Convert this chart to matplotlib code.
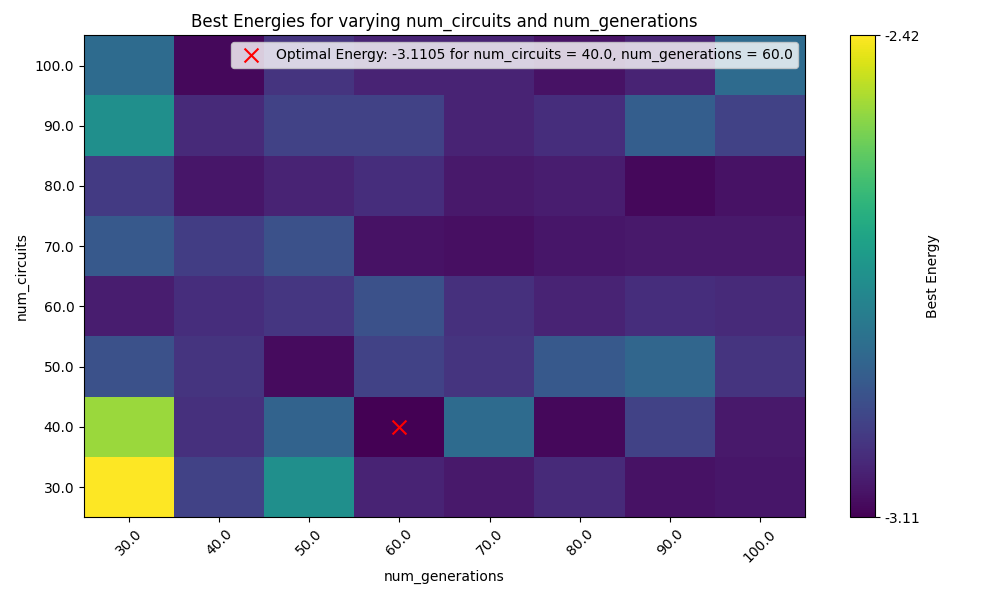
import numpy as np
import matplotlib
matplotlib.use('Agg')
import matplotlib.pyplot as plt

num_generations = [30.0, 40.0, 50.0, 60.0, 70.0, 80.0, 90.0, 100.0]
num_circuits = [30.0, 40.0, 50.0, 60.0, 70.0, 80.0, 90.0, 100.0]

# rows: num_circuits (30 -> 100), cols: num_generations (30 -> 100)
best_energy = np.array([
    [-2.420, -2.973, -2.766, -3.041, -3.062, -3.028, -3.076, -3.069],
    [-2.524, -3.014, -2.890, -3.1105, -2.869, -3.097, -2.973, -3.062],
    [-2.938, -3.007, -3.090, -2.973, -3.007, -2.917, -2.883, -3.007],
    [-3.055, -3.021, -3.000, -2.938, -3.014, -3.041, -3.021, -3.028],
    [-2.917, -2.986, -2.938, -3.076, -3.083, -3.069, -3.062, -3.062],
    [-2.993, -3.069, -3.041, -3.021, -3.062, -3.055, -3.097, -3.076],
    [-2.766, -3.028, -2.973, -2.973, -3.041, -3.021, -2.904, -2.973],
    [-2.869, -3.097, -3.007, -3.041, -3.041, -3.076, -3.041, -2.869],
])

opt_gen, opt_circ, opt_energy = 60.0, 40.0, -3.1105

fig = plt.figure(figsize=(10, 6), dpi=100)
ax = fig.add_axes([0.084, 0.138, 0.721, 0.803])
cax = fig.add_axes([0.85, 0.138, 0.025, 0.803])

vmin, vmax = best_energy.min(), best_energy.max()
im = ax.imshow(best_energy, origin='lower', aspect='auto', cmap='viridis',
               extent=[25, 105, 25, 105], vmin=vmin, vmax=vmax)
ax.scatter([opt_gen], [opt_circ], marker='x', color='red', s=100,
           label=f'Optimal Energy: {opt_energy:.4f} for num_circuits = {opt_circ}, '
                 f'num_generations = {opt_gen}')
ax.set_xticks(num_generations)
ax.set_xticklabels([str(v) for v in num_generations], rotation=45)
ax.set_yticks(num_circuits)
ax.set_yticklabels([str(v) for v in num_circuits])
ax.set_xlabel('num_generations')
ax.set_ylabel('num_circuits')
ax.set_title('Best Energies for varying num_circuits and num_generations')
ax.legend(loc='upper right')

cb = fig.colorbar(im, cax=cax)
cb.set_ticks([vmin, vmax])
cb.set_ticklabels([f'{vmin:.2f}', f'{vmax:.2f}'])
cb.set_label('Best Energy')

fig.savefig('out.png')
